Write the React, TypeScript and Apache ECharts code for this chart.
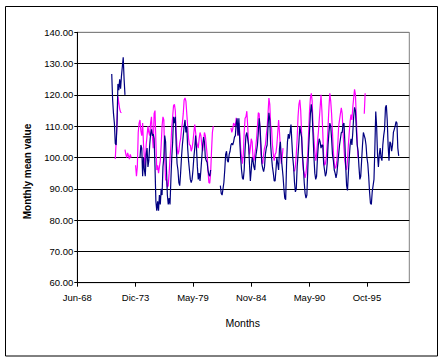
import React, { useEffect, useRef } from "react";
import * as echarts from "echarts";

// ---- categories (monthly, Spanish month abbreviations) ----
const monthNames = ["Ene", "Feb", "Mar", "Abr", "May", "Jun", "Jul", "Ago", "Sep", "Oct", "Nov", "Dic"];
const firstMonth = 5; // Jun
const firstYear = 1968;
const monthCount = 377;
const tickIndices = [0, 66, 131, 197, 263, 328]; // Jun-68, Dic-73, May-79, Nov-84, May-90, Oct-95

// ---- y axis ----
const yMin = 60;
const yMax = 140;
const yStep = 10;

// ---- navy series segments (start month index, monthly values) ----
const navyAStart = 39;
const navyA = [126.7, 118.5, 114, 111, 104.5, 104, 111, 123.5, 121.5, 125, 122, 126, 129, 132, 125, 120];

const navyBStart = 71;
const navyB = [
  100, 104, 103, 94, 100, 96, 94, 101, 103, 97,
  99, 104, 107.5, 109, 107, 107.5, 106, 97, 86, 83,
  86, 83, 88, 85, 90, 88, 97, 100, 107, 105,
  96, 88, 85, 87, 85, 93, 100, 105, 113, 111,
  113, 104, 98, 96, 92, 91, 95, 100, 104, 107,
  110, 112, 108, 110, 103, 99, 96, 93, 92, 93,
  96, 100, 103, 107, 103, 97, 93, 95, 92.5, 96,
  100, 104, 106.5, 105, 100, 99, 98.5, 96, 94.5, 94,
  96,
];

const navyCStart = 162;
const navyC = [
  91, 88.5, 88, 90, 92, 96, 101, 102, 99, 98.5,
  101, 102, 104, 104.5, 104, 105, 106.5, 107, 111, 112.5,
  107, 112.5, 105, 100, 96, 93.5, 93, 96, 102.5, 107,
  108, 106, 104, 98, 92.5, 96, 100, 99, 97, 96,
  100, 102, 104, 108, 112.5, 109.5, 104, 98, 96.5, 95.5,
  97, 101, 103, 104, 110, 114.3, 112, 104, 100, 97,
  95, 92.5, 92.5, 96, 100, 98, 96, 103, 105, 100,
  97, 94, 90, 87, 86.5, 98, 105, 107.5, 106, 108,
  110.5, 105, 100, 97, 92, 89, 90, 97, 101, 105,
  110, 108, 106.6, 101, 97, 92, 88.5, 87, 88, 96,
  103, 108.5, 114, 117, 114, 107, 100, 95, 93, 94,
  100, 104, 106, 105, 103, 104, 104, 98, 96, 94,
  95, 98, 104, 108, 111, 110, 106, 101, 99, 96,
  95, 93.5, 95, 98, 101, 104, 106, 108, 108, 110.5,
  111, 105, 97, 91, 89.5, 95, 100, 104, 106, 104,
  108, 113, 116, 115, 109, 104, 102, 97, 93, 94,
  99, 104, 108, 107, 106, 104, 100, 98, 94, 89,
  85.4, 85, 89, 91, 93, 103, 114.7, 110, 101, 97,
  101, 103, 100, 99, 104, 107, 109, 116, 116.7, 112,
  104, 99, 105, 104.5, 102, 104, 108, 109, 110, 111.5,
  111, 103, 100.5,
];

// ---- magenta series segments ----
const magentaAStart = 43;
const magentaA = [99.5, 105, 111.5, 119.5, 117.5, 115.5, 114.5, 114.3];

const magentaBStart = 54;
const magentaB = [102.5, 101, 100, 101.5, 100.5, 99.5, 101, 100];

const magentaCStart = 66;
const magentaC = [
  97.5, 94, 97, 108, 111, 112, 108.5, 107, 111, 104,
  100, 97, 104, 107, 110, 108, 107, 111, 113, 107,
  103, 114, 115, 105, 96, 97.5, 95, 97, 99, 104,
  110, 113, 112, 100, 92.7, 93, 90.5, 91, 95, 99.6,
  104, 109.8, 113, 116.6, 117, 115, 108, 103.3, 101, 102,
  104.6, 106, 109, 111, 114, 118.4, 119, 118, 114, 110,
  106, 104, 104, 102, 103, 105, 108, 110.5, 108, 105,
  104, 103, 106, 108, 107, 104, 102, 105, 108, 107,
  104, 101, 96, 92, 91.8, 95, 102, 108, 110,
];

const magentaDStart = 174;
const magentaD = [
  109.5, 108, 109, 111, 110.5, 110, 112.7, 110, 107, 111,
  108, 103, 100, 98, 101, 108, 112.5, 113, 114.8, 110,
  104, 101, 103, 106, 105, 100, 99, 101, 103, 106,
  110, 114.3, 114, 108, 101, 98.8, 98, 101, 103, 104,
  107, 109.5, 114, 119, 117, 110, 109.5, 104, 101, 99,
  101, 101.5, 104, 108, 112, 108, 103, 98, 100, 103,
];

const magentaEStart = 245;
const magentaE = [
  96, 95.6, 97, 101, 106, 113, 117, 118.4, 115, 108,
  100, 96, 95, 93.5, 95, 98, 101, 108, 115, 119,
  120.5, 118, 110, 106, 102, 99, 101, 105, 108, 112,
  116, 120, 115, 108, 100, 97.5, 98, 100, 104, 110,
  116, 120.5, 118, 114, 108, 102, 98, 96.5, 97, 99,
  104, 110, 112, 114, 115.9, 114, 108, 103, 99, 97,
  96, 99, 104, 108, 111.6, 113.7, 112, 116, 119, 121.8,
  120, 113, 105, 99.8,
];

const magentaFStart = 325;
const magentaF = [114, 120.5];

const FONT = '"Liberation Sans", Arial, sans-serif';

function buildSeries(segs: [number, number[]][]) {
  const arr: (number | null)[] = new Array(monthCount).fill(null);
  segs.forEach(([start, vals]) => {
    vals.forEach((v, k) => {
      arr[start + k] = v;
    });
  });
  return arr;
}

export default function App() {
  const ref = useRef<HTMLDivElement>(null);

  useEffect(() => {
    if (!ref.current) return;
    const chart = echarts.init(ref.current, undefined, { renderer: "svg" });

    const categories = Array.from({ length: monthCount }, (_, i) => {
      const m = firstMonth + i;
      const y = firstYear + Math.floor(m / 12);
      return monthNames[m % 12] + "-" + String(y % 100).padStart(2, "0");
    });
    const tickSet = new Set(tickIndices);

    const navy = buildSeries([
      [navyAStart, navyA],
      [navyBStart, navyB],
      [navyCStart, navyC],
    ]);
    const magenta = buildSeries([
      [magentaAStart, magentaA],
      [magentaBStart, magentaB],
      [magentaCStart, magentaC],
      [magentaDStart, magentaD],
      [magentaEStart, magentaE],
      [magentaFStart, magentaF],
    ]);

    const nLines = (yMax - yMin) / yStep + 1;
    const splitColors = Array.from({ length: nLines }, (_, i) => (i === nLines - 1 ? "#808080" : "#000000"));

    chart.setOption({
      animation: false,
      grid: {
        left: 77.3,
        top: 32.3,
        right: 34.7,
        bottom: 80.3,
        show: true,
        borderColor: "#808080",
        borderWidth: 1,
        backgroundColor: "transparent",
      },
      xAxis: {
        type: "category",
        data: categories,
        boundaryGap: false,
        axisLine: { lineStyle: { color: "#000", width: 1 } },
        axisTick: {
          show: true,
          interval: (i: number) => tickSet.has(i),
          length: 4,
          lineStyle: { color: "#000" },
        },
        axisLabel: {
          interval: (i: number) => tickSet.has(i),
          color: "#000",
          fontSize: 9.5,
          fontFamily: FONT,
          margin: 10,
        },
        splitLine: { show: false },
      },
      yAxis: {
        type: "value",
        min: yMin,
        max: yMax,
        interval: yStep,
        axisLine: { show: true, lineStyle: { color: "#000", width: 1 } },
        axisTick: { show: true, length: 3, lineStyle: { color: "#000" } },
        axisLabel: {
          formatter: (v: number) => v.toFixed(2),
          color: "#000",
          fontSize: 9.5,
          fontFamily: FONT,
          margin: 4,
        },
        splitLine: { show: true, lineStyle: { color: splitColors, width: 1 } },
      },
      series: [
        {
          name: "Series 2",
          type: "line",
          data: magenta,
          showSymbol: false,
          connectNulls: false,
          lineStyle: { color: "#FF00FF", width: 1.2 },
          itemStyle: { color: "#FF00FF" },
        },
        {
          name: "Series 1",
          type: "line",
          data: navy,
          showSymbol: false,
          connectNulls: false,
          lineStyle: { color: "#000080", width: 1.2 },
          itemStyle: { color: "#000080" },
        },
      ],
      graphic: [
        {
          type: "rect",
          silent: true,
          shape: { x: 5.5, y: 6.5, width: 432, height: 349.5 },
          style: { fill: "none", stroke: "#000", lineWidth: 1 },
        },
        {
          type: "text",
          silent: true,
          x: 27.5,
          y: 171.5,
          rotation: Math.PI / 2,
          style: {
            text: "Monthly mean value",
            font: "bold 10px " + FONT,
            fill: "#000",
            align: "center",
            verticalAlign: "middle",
          },
        },
        {
          type: "text",
          silent: true,
          x: 242.7,
          y: 323.3,
          style: {
            text: "Months",
            font: "10.5px " + FONT,
            fill: "#000",
            align: "center",
            verticalAlign: "middle",
          },
        },
      ],
    });

    return () => chart.dispose();
  }, []);

  return (
    <div
      ref={ref}
      style={{ position: "fixed", left: 0, top: 0, width: 444, height: 363, background: "#fff" }}
    />
  );
}
